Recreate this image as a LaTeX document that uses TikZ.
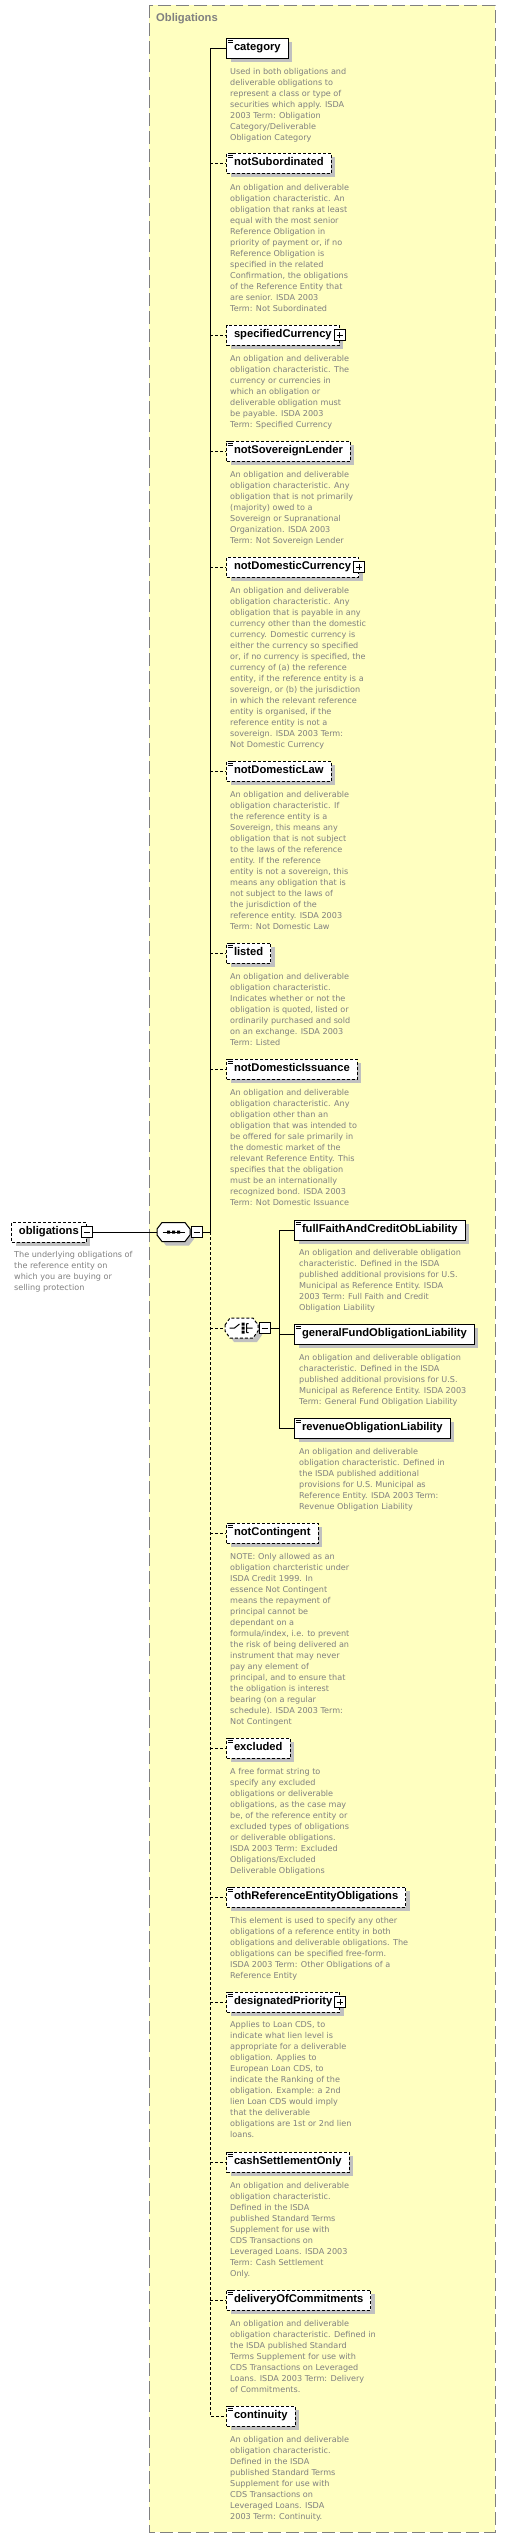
\documentclass[tikz,border=0pt]{standalone}
\usepackage{fontspec}
\usetikzlibrary{shadows}
\newfontfamily\namefont{Liberation Sans}
\newfontfamily\descfont{DejaVu Sans}
\definecolor{grpfill}{RGB}{255,255,192}
\definecolor{grpline}{RGB}{128,128,128}
\definecolor{shadowc}{RGB}{192,192,192}
\definecolor{desccol}{RGB}{128,128,128}
\newcommand\desclines[1]{\begin{tabular}[t]{@{}l@{}}#1\end{tabular}}
\newcommand\docicon[1]{\draw[line width=0.7pt] ([shift={(1.5,1.3)}]#1.north west) -- ++(5,0) ([shift={(1.5,2.9)}]#1.north west) -- ++(5,0) ([shift={(1.5,4.5)}]#1.north west) -- ++(5,0);}
\tikzset{
 elem/.style={draw, fill=white, line width=1pt, anchor=west, font=\namefont\bfseries\fontsize{11.2}{13}\selectfont, inner xsep=7.5pt, inner ysep=0pt, minimum height=20pt, text height=8.2pt, text depth=2.3pt, drop shadow={shadow xshift=4pt, shadow yshift=-4pt, fill=shadowc, opacity=1}},
 opt/.style={dash pattern=on 3pt off 2pt},
 desc/.style={anchor=base west, inner sep=0pt, text=desccol, font=\descfont\fontsize{8.1}{11}\selectfont},
 conn/.style={line width=1pt},
 pm/.style={draw, fill=white, line width=1pt, minimum size=11pt, inner sep=0pt},
 plusbox/.style={pm, path picture={\draw[line width=1pt] ([xshift=2.5pt]path picture bounding box.west) -- ([xshift=-2.5pt]path picture bounding box.east) ([yshift=-2.5pt]path picture bounding box.north) -- ([yshift=2.5pt]path picture bounding box.south);}},
 minusbox/.style={pm, path picture={\draw[line width=1pt] ([xshift=2.5pt]path picture bounding box.west) -- ([xshift=-2.5pt]path picture bounding box.east);}},
}
\begin{document}
\begin{tikzpicture}[x=1pt,y=-1pt]
\useasboundingbox[fill=white] (0,0) rectangle (504,2538);
% group
\draw[grpline, fill=grpfill, line width=1pt, dash pattern=on 13pt off 5pt] (149,5) rectangle (495,2532);
\node[anchor=west, inner sep=0pt, text=grpline, font=\namefont\bfseries\fontsize{11.2}{13}\selectfont] (title) at (156,19) {Obligations};
\coordinate (T) at (210,0);
\coordinate (C) at (279,0);

% root
\node[elem, opt] (root) at (11,1232) {obligations\hspace{5.5pt}};
\node[minusbox] (rootm) at (root.east) {};
\node[desc] (droot) at (14,1257) {\desclines{The underlying obligations of\\the reference entity on\\which you are buying or\\selling protection}};

% sequence
\node[inner sep=0pt, minimum width=33pt, minimum height=19pt] (seq) at (173.5,1232) {};
\fill[shadowc, shift={(seq.center)}, shift={(4,4)}] (-16.5,-3) -- (-11.5,-9.5) -- (11.5,-9.5) -- (16.5,-3) -- (16.5,3) -- (11.5,9.5) -- (-11.5,9.5) -- (-16.5,3) -- cycle;
\draw[fill=white, line width=1pt, shift={(seq.center)}] (-16.5,-3) -- (-11.5,-9.5) -- (11.5,-9.5) -- (16.5,-3) -- (16.5,3) -- (11.5,9.5) -- (-11.5,9.5) -- (-16.5,3) -- cycle;
\draw[line width=1pt, shift={(seq.center)}] (-11,0) -- (11,0);
\fill[shift={(seq.center)}] (-6.5,-1.5) rectangle ++(3,3) (-1.5,-1.5) rectangle ++(3,3) (3.5,-1.5) rectangle ++(3,3);
\node[minusbox] (seqm) at (196.5,1232) {};

% choice
\node[inner sep=0pt, minimum width=33pt, minimum height=20pt] (ch) at (241.5,1328) {};
\fill[shadowc, shift={(ch.center)}, shift={(4,4)}] (-16.5,-3) -- (-11.5,-10) -- (11.5,-10) -- (16.5,-3) -- (16.5,3) -- (11.5,10) -- (-11.5,10) -- (-16.5,3) -- cycle;
\draw[fill=white, line width=1pt, opt, shift={(ch.center)}] (-16.5,-3) -- (-11.5,-10) -- (11.5,-10) -- (16.5,-3) -- (16.5,3) -- (11.5,10) -- (-11.5,10) -- (-16.5,3) -- cycle;
\draw[line width=1pt, shift={(ch.center)}] (-12,0) -- (-7,0) -- (-2,-4) (5,-4.5) -- (5,4.5) (5,-4.5) -- (7,-4.5) (5,4.5) -- (7,4.5) (5,0) -- (11,0);
\fill[shift={(ch.center)}] (0,-5.5) rectangle ++(3,3) (0,-1.5) rectangle ++(3,3) (0,2.5) rectangle ++(3,3);
\node[minusbox] (chm) at (264.5,1328) {};

% main children
\node[elem] (category) at (226,48) {category};
\docicon{category}
\node[desc] (d1) at (230,74) {\desclines{Used in both obligations and\\deliverable obligations to\\represent a class or type of\\securities which apply. ISDA\\2003 Term: Obligation\\Category/Deliverable\\Obligation Category}};

\node[elem, opt] (notSub) at (226,163) {notSubordinated};
\docicon{notSub}
\node[desc] (d2) at (230,190) {\desclines{An obligation and deliverable\\obligation characteristic. An\\obligation that ranks at least\\equal with the most senior\\Reference Obligation in\\priority of payment or, if no\\Reference Obligation is\\specified in the related\\Confirmation, the obligations\\of the Reference Entity that\\are senior. ISDA 2003\\Term: Not Subordinated}};

\node[elem, opt] (specCur) at (226,335) {specifiedCurrency\hspace{5.5pt}};
\node[plusbox] (specCurP) at (specCur.east) {};
\node[desc] (d3) at (230,361) {\desclines{An obligation and deliverable\\obligation characteristic. The\\currency or currencies in\\which an obligation or\\deliverable obligation must\\be payable. ISDA 2003\\Term: Specified Currency}};

\node[elem, opt] (notSov) at (226,451) {notSovereignLender};
\docicon{notSov}
\node[desc] (d4) at (230,477) {\desclines{An obligation and deliverable\\obligation characteristic. Any\\obligation that is not primarily\\(majority) owed to a\\Sovereign or Supranational\\Organization. ISDA 2003\\Term: Not Sovereign Lender}};

\node[elem, opt] (notDomCur) at (226,567) {notDomesticCurrency\hspace{5.5pt}};
\node[plusbox] (notDomCurP) at (notDomCur.east) {};
\node[desc] (d5) at (230,593) {\desclines{An obligation and deliverable\\obligation characteristic. Any\\obligation that is payable in any\\currency other than the domestic\\currency. Domestic currency is\\either the currency so specified\\or, if no currency is specified, the\\currency of (a) the reference\\entity, if the reference entity is a\\sovereign, or (b) the jurisdiction\\in which the relevant reference\\entity is organised, if the\\reference entity is not a\\sovereign. ISDA 2003 Term:\\Not Domestic Currency}};

\node[elem, opt] (notDomLaw) at (226,771) {notDomesticLaw};
\docicon{notDomLaw}
\node[desc] (d6) at (230,797) {\desclines{An obligation and deliverable\\obligation characteristic. If\\the reference entity is a\\Sovereign, this means any\\obligation that is not subject\\to the laws of the reference\\entity. If the reference\\entity is not a sovereign, this\\means any obligation that is\\not subject to the laws of\\the jurisdiction of the\\reference entity. ISDA 2003\\Term: Not Domestic Law}};

\node[elem, opt] (listed) at (226,953) {listed};
\docicon{listed}
\node[desc] (d7) at (230,979) {\desclines{An obligation and deliverable\\obligation characteristic.\\Indicates whether or not the\\obligation is quoted, listed or\\ordinarily purchased and sold\\on an exchange. ISDA 2003\\Term: Listed}};

\node[elem, opt] (notDomIss) at (226,1069) {notDomesticIssuance};
\docicon{notDomIss}
\node[desc] (d8) at (230,1095) {\desclines{An obligation and deliverable\\obligation characteristic. Any\\obligation other than an\\obligation that was intended to\\be offered for sale primarily in\\the domestic market of the\\relevant Reference Entity. This\\specifies that the obligation\\must be an internationally\\recognized bond. ISDA 2003\\Term: Not Domestic Issuance}};

% choice children
\node[elem] (ff) at (294,1230) {fullFaithAndCreditObLiability};
\docicon{ff}
\node[desc] (d9) at (299,1255) {\desclines{An obligation and deliverable obligation\\characteristic. Defined in the ISDA\\published additional provisions for U.S.\\Municipal as Reference Entity. ISDA\\2003 Term: Full Faith and Credit\\Obligation Liability}};

\node[elem] (gf) at (294,1334) {generalFundObligationLiability};
\docicon{gf}
\node[desc] (d10) at (299,1360) {\desclines{An obligation and deliverable obligation\\characteristic. Defined in the ISDA\\published additional provisions for U.S.\\Municipal as Reference Entity. ISDA 2003\\Term: General Fund Obligation Liability}};

\node[elem] (rev) at (294,1428) {revenueObligationLiability};
\docicon{rev}
\node[desc] (d11) at (299,1454) {\desclines{An obligation and deliverable\\obligation characteristic. Defined in\\the ISDA published additional\\provisions for U.S. Municipal as\\Reference Entity. ISDA 2003 Term:\\Revenue Obligation Liability}};

\node[elem, opt] (notCont) at (226,1533) {notContingent};
\docicon{notCont}
\node[desc] (d12) at (230,1559) {\desclines{NOTE: Only allowed as an\\obligation charcteristic under\\ISDA Credit 1999. In\\essence Not Contingent\\means the repayment of\\principal cannot be\\dependant on a\\formula/index, i.e. to prevent\\the risk of being delivered an\\instrument that may never\\pay any element of\\principal, and to ensure that\\the obligation is interest\\bearing (on a regular\\schedule). ISDA 2003 Term:\\Not Contingent}};

\node[elem, opt] (excl) at (226,1748) {excluded};
\docicon{excl}
\node[desc] (d13) at (230,1774) {\desclines{A free format string to\\specify any excluded\\obligations or deliverable\\obligations, as the case may\\be, of the reference entity or\\excluded types of obligations\\or deliverable obligations.\\ISDA 2003 Term: Excluded\\Obligations/Excluded\\Deliverable Obligations}};

\node[elem, opt] (othRef) at (226,1897) {othReferenceEntityObligations};
\docicon{othRef}
\node[desc] (d14) at (230,1923) {\desclines{This element is used to specify any other\\obligations of a reference entity in both\\obligations and deliverable obligations. The\\obligations can be specified free-form.\\ISDA 2003 Term: Other Obligations of a\\Reference Entity}};

\node[elem, opt] (desPri) at (226,2002) {designatedPriority\hspace{5.5pt}};
\docicon{desPri}
\node[plusbox] (desPriP) at (desPri.east) {};
\node[desc] (d15) at (230,2027) {\desclines{Applies to Loan CDS, to\\indicate what lien level is\\appropriate for a deliverable\\obligation. Applies to\\European Loan CDS, to\\indicate the Ranking of the\\obligation. Example: a 2nd\\lien Loan CDS would imply\\that the deliverable\\obligations are 1st or 2nd lien\\loans.}};

\node[elem, opt] (cash) at (226,2162) {cashSettlementOnly};
\docicon{cash}
\node[desc] (d16) at (230,2188) {\desclines{An obligation and deliverable\\obligation characteristic.\\Defined in the ISDA\\published Standard Terms\\Supplement for use with\\CDS Transactions on\\Leveraged Loans. ISDA 2003\\Term: Cash Settlement\\Only.}};

\node[elem, opt] (deliv) at (226,2300) {deliveryOfCommitments};
\docicon{deliv}
\node[desc] (d17) at (230,2326) {\desclines{An obligation and deliverable\\obligation characteristic. Defined in\\the ISDA published Standard\\Terms Supplement for use with\\CDS Transactions on Leveraged\\Loans. ISDA 2003 Term: Delivery\\of Commitments.}};

\node[elem, opt] (cont) at (226,2416) {continuity};
\docicon{cont}
\node[desc] (d18) at (230,2442) {\desclines{An obligation and deliverable\\obligation characteristic.\\Defined in the ISDA\\published Standard Terms\\Supplement for use with\\CDS Transactions on\\Leveraged Loans. ISDA\\2003 Term: Continuity.}};

% connectors
\draw[conn] (rootm.east) -- (seq.west);
\draw[conn] (seqm.east) -- (T |- seqm.east);
\draw[conn] (T |- category.west) -- (T |- seqm.east);
\draw[conn, opt] (T |- seqm.east) -- (T |- cont.west) -- (cont.west);
\draw[conn] (T |- category.west) -- (category.west);
\foreach \n in {notSub,specCur,notSov,notDomCur,notDomLaw,listed,notDomIss,notCont,excl,othRef,desPri,cash,deliv}
  \draw[conn, opt] (T |- \n.west) -- (\n.west);
\draw[conn, opt] (T |- ch.west) -- (ch.west);
\draw[conn] (chm.east) -- (C |- chm.east);
\draw[conn] (C |- ff.west) -- (C |- rev.west);
\foreach \n in {ff,gf,rev}
  \draw[conn] (C |- \n.west) -- (\n.west);
\end{tikzpicture}
\end{document}
